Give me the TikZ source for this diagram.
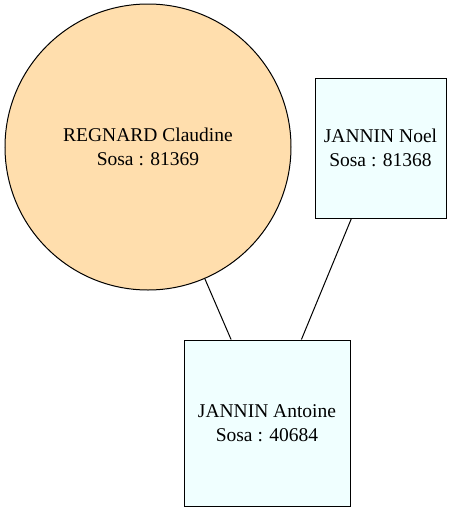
\documentclass[tikz,border=0pt]{standalone}
\usepackage{fontspec}
\setmainfont{Liberation Serif}
\usetikzlibrary{positioning}
\definecolor{sosaorange}{HTML}{FFDEAD}
\definecolor{sosaazure}{HTML}{F0FFFF}

\begin{document}
\begin{tikzpicture}[x=1pt,y=-1pt,
  person/.style={draw, line width=1pt, align=center, inner sep=0pt, font=\fontsize{19.5}{24}\selectfont},
  woman/.style={person, circle, fill=sosaorange, minimum size=286pt},
  man/.style={person, rectangle, fill=sosaazure}]
\useasboundingbox (0,0) rectangle (462,512);
\node[woman] (claudine) at (148,147) {REGNARD Claudine\\Sosa : 81369};
\node[man, minimum width=131pt, minimum height=140pt] (noel) at (380.5,148) {JANNIN Noel\\Sosa : 81368};
\node[man, minimum width=166pt, minimum height=166pt] (antoine) at (267,423) {JANNIN Antoine\\Sosa : 40684};
\draw[line width=1pt] (claudine) -- (antoine);
\draw[line width=1pt] (noel) -- (antoine);
\end{tikzpicture}
\end{document}
